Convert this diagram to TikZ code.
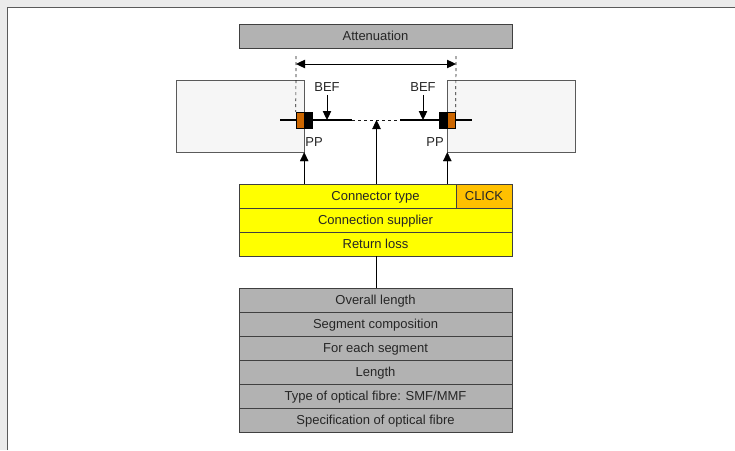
\documentclass[tikz,border=0pt]{standalone}
\usepackage{fontspec}
\setmainfont{Liberation Sans}
\usetikzlibrary{arrows.meta}
\definecolor{panel}{HTML}{EBEBEB}
\definecolor{frame}{HTML}{5A5A5A}
\definecolor{edge}{HTML}{404040}
\definecolor{boxgrey}{HTML}{B2B2B2}
\definecolor{hostgrey}{HTML}{F6F6F6}
\definecolor{yel}{HTML}{FFFF00}
\definecolor{clickorange}{HTML}{FFC000}
\definecolor{plug}{HTML}{CC6600}

\begin{document}
\begin{tikzpicture}[x=1pt,y=-1pt,>={Triangle[length=9pt,width=8.5pt]},node distance=24pt,
                    semithick]
\tikzstyle{every node}=[font=\fontsize{13pt}{15pt}\selectfont,text=black!85,text height=9.3pt,text depth=0pt]
\tikzstyle{row}=[draw=edge,thin,minimum width=273pt,minimum height=24pt,inner sep=0pt]
\tikzstyle{host}=[draw=frame,thin,fill=hostgrey,minimum width=128pt,minimum height=72pt,inner sep=0pt]
\tikzstyle{ferrule}=[draw=black,thin,minimum width=8pt,minimum height=16pt,inner sep=0pt,text height=0pt]
\tikzstyle{span}=[draw=black!90,line width=0.7pt,dash pattern=on 3pt off 3pt]

        % page
        \useasboundingbox (0,0) rectangle (735,450);
        \fill[panel] (0,0) rectangle (735,450);
        \fill[white] (7.5,7.5) rectangle (735,450);
        \draw[frame,line width=1.4pt] (7.5,450) -- (7.5,7.5) -- (735,7.5);

        \node[row,fill=boxgrey]                       (att)  at (375.5,36)    {Attenuation};

        \node[host,text height=0pt]                   (lh)   at (240,116)     {};
        \node[host,text height=0pt]                   (rh)   at (511.5,116)   {};

        % fibre
        \coordinate (f1) at (280,120);
        \coordinate (f2) at (352,120);
        \coordinate (f3) at (400,120);
        \coordinate (f4) at (472,120);
        \coordinate (fm) at (376.5,120);
        \draw[line width=2pt] (f1) -- (f2);
        \draw[span] (f2) -- (f3);
        \draw[line width=2pt] (f3) -- (f4);

        \node[ferrule,fill=plug]                      (lp)   at (300,120)     {};
        \node[ferrule,fill=black]                     (lf)   at (308,120)     {};
        \node[ferrule,fill=black]                     (rf)   at (443.5,120)   {};
        \node[ferrule,fill=plug]                      (rp)   at (451.5,120)   {};

        \node                                         (bef1) at (327,86.5)    {BEF};
        \node                                         (bef2) at (423,86.5)    {BEF};
        \node                                         (pp1)  at (314,141.5)   {PP};
        \node                                         (pp2)  at (435,141.5)   {PP};

        % attenuation span
        \coordinate (a1) at (296,56);
        \coordinate (a2) at (456,56);
        \draw[span] (a1) -- (lp.north west);
        \draw[span] (a2) -- (rp.north east);
        \draw[thin,<->] ([yshift=-8pt]a1) -- ([yshift=-8pt]a2);

        % connector rows
        \node[row,fill=yel]                           (ct)   at (375.5,196)   {Connector type};
        \node[row,fill=yel]                           (cs)   [below of=ct]    {Connection supplier};
        \node[row,fill=yel]                           (rl)   [below of=cs]    {Return loss};
        \node[draw=edge,thin,fill=clickorange,minimum width=56pt,minimum height=24pt,inner sep=0pt]
                                                      (clk)  at (484,196)     {CLICK};

        % fibre rows
        \node[row,fill=boxgrey]                       (ol)   at (375.5,300)   {Overall length};
        \node[row,fill=boxgrey]                       (sc)   [below of=ol]    {Segment composition};
        \node[row,fill=boxgrey]                       (es)   [below of=sc]    {For each segment};
        \node[row,fill=boxgrey]                       (len)  [below of=es]    {Length};
        \node[row,fill=boxgrey]                       (typ)  [below of=len]   {Type of optical fibre: SMF/MMF};
        \node[row,fill=boxgrey]                       (spec) [below of=typ]   {Specification of optical fibre};

        \path[thin,->]
        (bef1.south)                edge node {}   (bef1.south |- f1)
        (bef2.south)                edge node {}   (bef2.south |- f1)
        (lh.south east |- ct.north) edge node {}   (lh.south east)
        (rh.south west |- ct.north) edge node {}   (rh.south west)
        (fm |- ct.north)            edge node {}   (fm)
        ; %end path

        \draw[thin] (rl.south -| fm) -- (ol.north -| fm);

\end{tikzpicture}
\end{document}
